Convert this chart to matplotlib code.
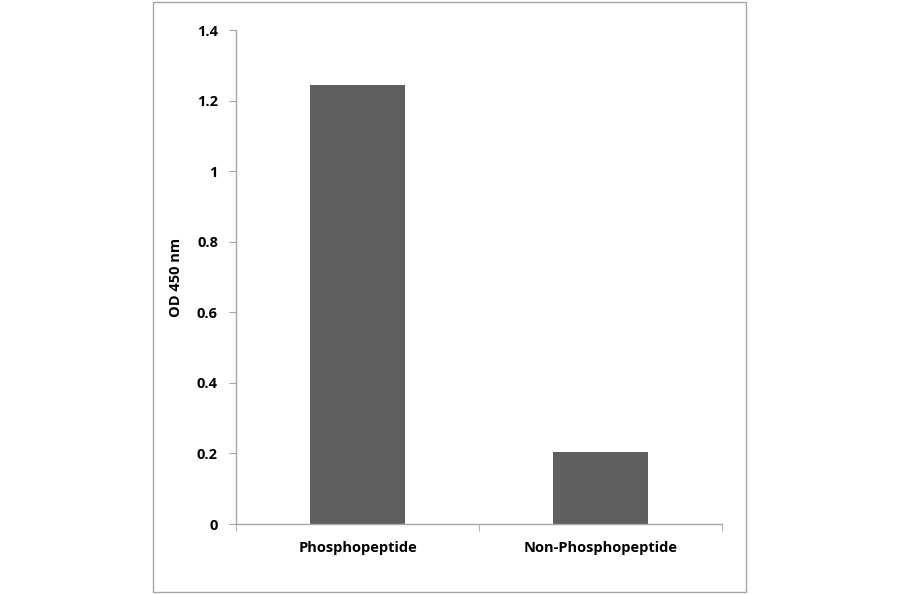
import matplotlib
matplotlib.use("Agg")
import matplotlib.pyplot as plt
from matplotlib.patches import Rectangle

categories = ["Phosphopeptide", "Non-Phosphopeptide"]
values = [1.244, 0.205]
yticks = [0, 0.2, 0.4, 0.6, 0.8, 1, 1.2, 1.4]
ytick_labels = ["0", "0.2", "0.4", "0.6", "0.8", "1", "1.2", "1.4"]

plt.rcParams['font.family'] = ['Open Sans', 'DejaVu Sans']

fig = plt.figure(figsize=(9, 5.94), dpi=100)
fig.patch.set_facecolor("white")
fig.patches.append(Rectangle((153/900, 2/594), (746-153)/900, (592-2)/594,
                             transform=fig.transFigure, fill=False,
                             edgecolor="#a6a6a6", linewidth=1.0))

ax = fig.add_axes([236/900, 70/594, 486/900, 494/594])
x = list(range(len(categories)))
ax.bar(x, values, width=0.395, color="#5f5f5f", zorder=2)

ax.set_xlim(-0.5, len(categories) - 0.5)
ax.set_ylim(0, 1.4)
ax.set_yticks(yticks)
ax.set_yticklabels(ytick_labels, fontsize=10.5, fontweight="bold")
ax.set_xticks(x)
ax.set_xticklabels(categories, fontsize=10.5, fontweight="bold")
ax.set_xticks([i - 0.5 for i in range(len(categories) + 1)], minor=True)
ax.tick_params(axis="x", which="major", length=0, pad=12)
ax.tick_params(axis="x", which="minor", length=5, color="#a6a6a6", direction="out")
ax.tick_params(axis="y", which="major", length=5, color="#a6a6a6", direction="out", pad=8)

for s in ["top", "right"]:
    ax.spines[s].set_visible(False)
for s in ["left", "bottom"]:
    ax.spines[s].set_color("#a6a6a6")
    ax.spines[s].set_linewidth(1.0)

ax.set_ylabel("OD 450 nm", fontsize=10.5, fontweight="bold", labelpad=10)

fig.savefig("out.png", dpi=100, facecolor="white")
